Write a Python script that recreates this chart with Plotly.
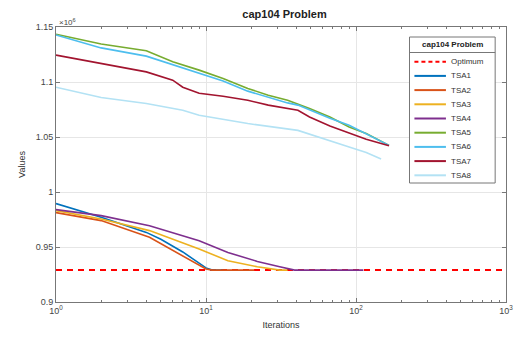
import plotly.graph_objects as go

# ---------------- data (values in units of 10^6) ----------------
optimum_value = 0.9290
optimum_x = [1, 1000]

tsa1_x = [1, 2, 4, 5, 7, 9, 10, 11, 13]
tsa1_y = [0.9895, 0.9770, 0.9633, 0.9570, 0.9455, 0.9350, 0.9310, 0.9290, 0.9290]

tsa2_x = [1, 2, 4.2, 7.7, 10, 11, 21]
tsa2_y = [0.9813, 0.9740, 0.9588, 0.9390, 0.9300, 0.9290, 0.9290]

tsa3_x = [1, 2, 4.2, 9, 14, 22, 31, 35]
tsa3_y = [0.9831, 0.9755, 0.9649, 0.9482, 0.9375, 0.9320, 0.9290, 0.9290]

tsa4_x = [1, 2, 4.2, 9, 14, 22, 31, 39, 112]
tsa4_y = [0.9840, 0.9785, 0.9694, 0.9557, 0.9450, 0.9369, 0.9320, 0.9290, 0.9290]

tsa5_x = [1, 2, 4, 6, 9, 13, 19, 26, 35, 41, 49, 67, 90, 117, 166]
tsa5_y = [1.1434, 1.1345, 1.1284, 1.1184, 1.1108, 1.1032, 1.0941, 1.0880,
          1.0834, 1.0800, 1.0759, 1.0682, 1.0591, 1.0531, 1.0424]

tsa6_x = [1, 2, 4, 6, 9, 13, 19, 26, 35, 41, 49, 67, 90, 117, 166]
tsa6_y = [1.1427, 1.1310, 1.1235, 1.1160, 1.1080, 1.1010, 1.0917, 1.0860,
          1.0810, 1.0790, 1.0745, 1.0670, 1.0606, 1.0530, 1.0424]

tsa7_x = [1, 2, 3, 4, 6, 7, 9, 13, 19, 26, 41, 49, 67, 90, 117, 166]
tsa7_y = [1.1244, 1.1169, 1.1126, 1.1092, 1.1017, 1.0953, 1.0898, 1.0870,
          1.0834, 1.0790, 1.0743, 1.0682, 1.0600, 1.0533, 1.0480, 1.0420]

tsa8_x = [1, 2, 4, 7, 9, 19, 41, 67, 90, 117, 147]
tsa8_y = [1.0953, 1.0859, 1.0804, 1.0743, 1.0697, 1.0622, 1.0560,
          1.0470, 1.0410, 1.0360, 1.0300]

series_names = ["TSA1", "TSA2", "TSA3", "TSA4", "TSA5", "TSA6", "TSA7", "TSA8"]
series_x = [tsa1_x, tsa2_x, tsa3_x, tsa4_x, tsa5_x, tsa6_x, tsa7_x, tsa8_x]
series_y = [tsa1_y, tsa2_y, tsa3_y, tsa4_y, tsa5_y, tsa6_y, tsa7_y, tsa8_y]
series_colors = ["#0072BD", "#D95319", "#EDB120", "#7E2F8E",
                 "#77AC30", "#4DBEEE", "#A2142F", "#B3E2F4"]
optimum_color = "#FF0000"

x_tick_vals = [1, 10, 100, 1000]
x_tick_text = ["10<sup>0</sup>", "10<sup>1</sup>", "10<sup>2</sup>", "10<sup>3</sup>"]
y_tick_vals = [0.9, 0.95, 1.0, 1.05, 1.1, 1.15]
y_tick_text = ["0.9", "0.95", "1", "1.05", "1.1", "1.15"]

title_text = "cap104 Problem"

# ---------------- figure ----------------
W, H = 522, 343
L, R, T, B = 56, 9, 27, 41
font_family = "Arial, Liberation Sans, sans-serif"

fig = go.Figure()
fig.add_trace(go.Scatter(x=optimum_x, y=[optimum_value] * len(optimum_x), mode="lines",
                         name="Optimum", line=dict(color=optimum_color, width=2, dash="6px,5px")))
for nm, xs, ys, c in zip(series_names, series_x, series_y, series_colors):
    fig.add_trace(go.Scatter(x=xs, y=ys, mode="lines", name=nm,
                             line=dict(color=c, width=1.6)))

minor_vals = [m * 10 ** d for d in range(3) for m in range(2, 10)]

fig.update_layout(
    width=W, height=H,
    margin=dict(l=L, r=R, t=T, b=B),
    paper_bgcolor="white", plot_bgcolor="white",
    showlegend=False,
    font=dict(family=font_family, size=9, color="#444"),
    title=dict(text="<b>" + title_text + "</b>", x=(L + (W - R)) / 2 / W, xanchor="center",
               y=1 - 14 / H, yanchor="middle", font=dict(size=11, color="#222")),
)
fig.update_xaxes(
    type="log", range=[0, 3],
    tickmode="array", tickvals=x_tick_vals, ticktext=x_tick_text,
    ticks="inside", ticklen=4, tickcolor="#777",
    showline=True, linecolor="#777", linewidth=1, mirror="ticks",
    showgrid=True, gridcolor="#e6e6e6", zeroline=False,
    minor=dict(tickmode="array", tickvals=minor_vals, ticks="inside", ticklen=2,
               tickcolor="#777", showgrid=False),
    title=dict(text="Iterations", font=dict(size=9, color="#333"), standoff=6),
    tickfont=dict(size=9, color="#444"),
)
fig.update_yaxes(
    range=[0.9, 1.15],
    tickmode="array", tickvals=y_tick_vals, ticktext=y_tick_text,
    ticks="inside", ticklen=4, tickcolor="#777",
    showline=True, linecolor="#777", linewidth=1, mirror="ticks",
    showgrid=True, gridcolor="#e6e6e6", zeroline=False,
    title=dict(text="Values", font=dict(size=9, color="#333"), standoff=8),
    tickfont=dict(size=9, color="#444"),
)

# exponent label
fig.add_annotation(xref="paper", yref="paper", x=0.0, y=1.0, xanchor="left", yanchor="bottom",
                   text="×10<sup>6</sup>", showarrow=False, font=dict(size=8, color="#444"),
                   xshift=1, yshift=-2)

# ---------------- manual MATLAB-style legend ----------------
pw = W - L - R
ph = H - T - B


def px(xp):
    return (xp - L) / pw


def py(yp):
    return (H - B - yp) / ph


box_l, box_r, box_t, box_b = 415, 502, 37, 183
shapes = [
    dict(type="rect", xref="paper", yref="paper", x0=px(box_l), x1=px(box_r),
         y0=py(box_b), y1=py(box_t), line=dict(color="#777", width=1), fillcolor="white",
         layer="above"),
    dict(type="line", xref="paper", yref="paper", x0=px(box_l), x1=px(box_r),
         y0=py(52.5), y1=py(52.5), line=dict(color="#777", width=1), layer="above"),
]
annotations = [
    dict(xref="paper", yref="paper", x=px((box_l + box_r) / 2), y=py(45), xanchor="center",
         yanchor="middle", text="<b>" + title_text + "</b>", showarrow=False,
         font=dict(size=8, color="#222")),
]
legend_names = ["Optimum"] + series_names
legend_colors = [optimum_color] + series_colors
legend_dash = ["dash"] + ["solid"] * len(series_names)
y0 = 61.7
gap = 14.2
for i, (nm, c, d) in enumerate(zip(legend_names, legend_colors, legend_dash)):
    yy = y0 + i * gap
    shapes.append(dict(type="line", xref="paper", yref="paper", x0=px(420), x1=px(452),
                       y0=py(yy), y1=py(yy), layer="above",
                       line=dict(color=c, width=2, dash="4px,3px" if d == "dash" else "solid")))
    annotations.append(dict(xref="paper", yref="paper", x=px(455), y=py(yy), xanchor="left",
                            yanchor="middle", text=nm, showarrow=False,
                            font=dict(size=8, color="#333")))

fig.update_layout(shapes=shapes)
for a in annotations:
    fig.add_annotation(**a)

fig.write_html("out.html")
